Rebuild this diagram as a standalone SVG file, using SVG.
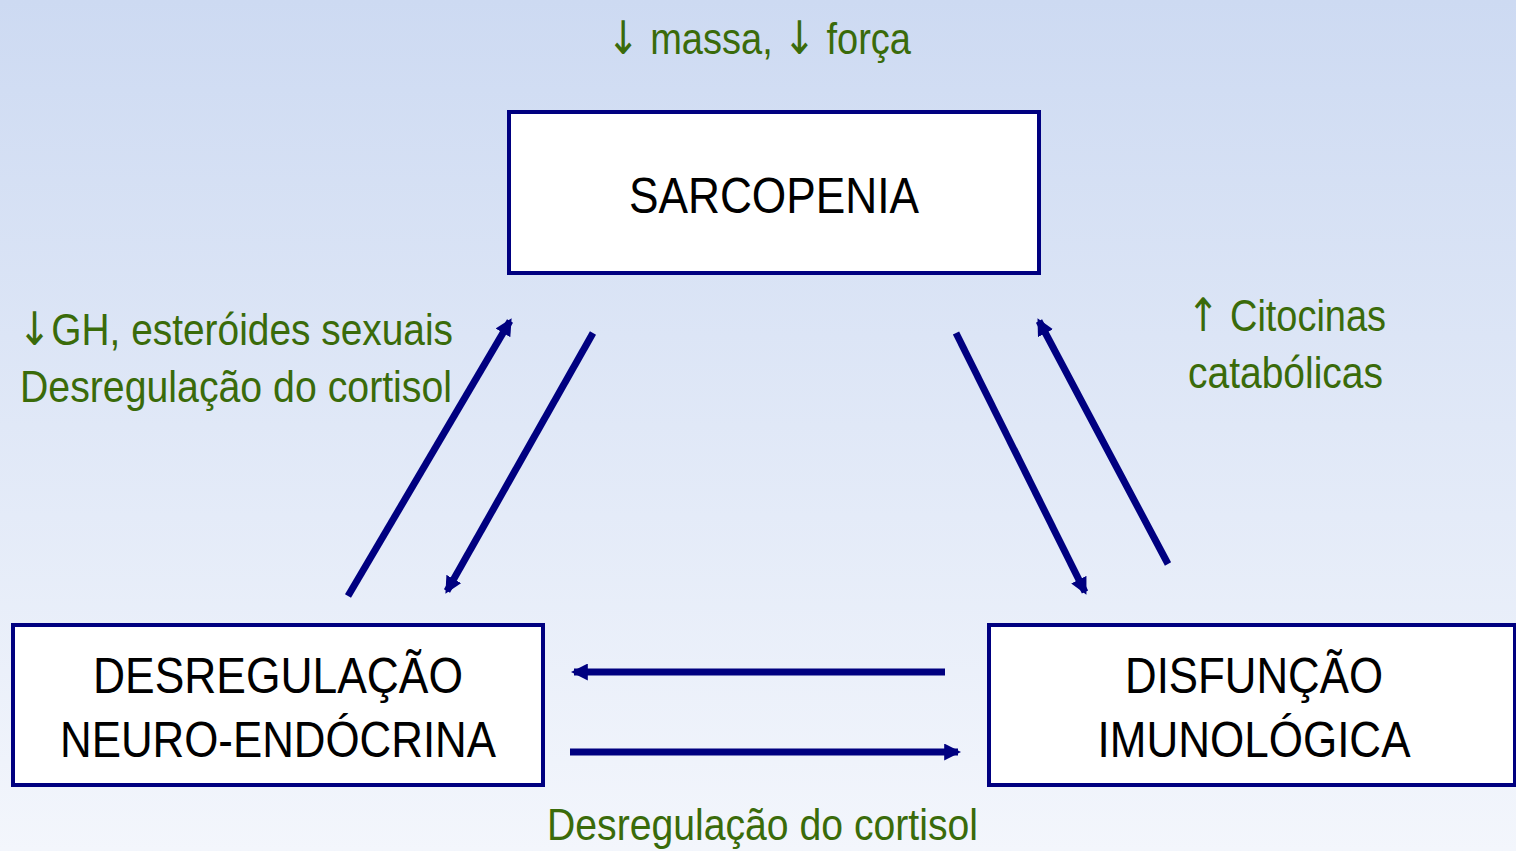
<svg xmlns="http://www.w3.org/2000/svg" width="1516" height="851" viewBox="0 0 1516 851">
<defs>
<linearGradient id="bg" x1="0" y1="0" x2="0" y2="1">
<stop offset="0" stop-color="#cddaf2"/>
<stop offset="1" stop-color="#f3f6fc"/>
</linearGradient>
<marker id="ah" viewBox="0 0 16 16" refX="13" refY="8" markerWidth="17" markerHeight="17" markerUnits="userSpaceOnUse" orient="auto">
<path d="M0,0 L16,8 L0,16 Z" fill="#000080"/>
</marker>
<style>
.box{fill:#ffffff;stroke:#000080;stroke-width:4}
.lbl{font-family:"Liberation Sans",Arial,sans-serif;font-size:50px;fill:#000000;text-anchor:middle}
.g{font-family:"Liberation Sans",Arial,sans-serif;font-size:45px;fill:#3a6b0a}
.ar{font-family:"DejaVu Sans",sans-serif;font-size:46px}
.c{stroke:#000080;stroke-width:7;fill:none;marker-end:url(#ah)}
</style>
</defs>
<rect x="0" y="0" width="1516" height="851" fill="url(#bg)"/>
<g id="sarcopenia">
<rect class="box" x="509" y="112" width="530" height="161"/>
<text class="lbl" x="774" y="213" textLength="290" lengthAdjust="spacingAndGlyphs">SARCOPENIA</text>
</g>
<g id="neuro">
<rect class="box" x="13" y="625" width="530" height="160"/>
<text class="lbl" x="278" y="693" textLength="370" lengthAdjust="spacingAndGlyphs">DESREGULAÇÃO</text>
<text class="lbl" x="278" y="757" textLength="436" lengthAdjust="spacingAndGlyphs">NEURO-ENDÓCRINA</text>
</g>
<g id="imuno">
<rect class="box" x="989" y="625" width="526" height="160"/>
<text class="lbl" x="1254" y="693" textLength="258" lengthAdjust="spacingAndGlyphs">DISFUNÇÃO</text>
<text class="lbl" x="1254" y="757" textLength="313" lengthAdjust="spacingAndGlyphs">IMUNOLÓGICA</text>
</g>
<g id="connectors">
<line class="c" x1="348" y1="596" x2="510" y2="321"/>
<line class="c" x1="593" y1="333" x2="447" y2="591"/>
<line class="c" x1="956" y1="333" x2="1085" y2="592"/>
<line class="c" x1="1168" y1="564" x2="1039" y2="321"/>
<line class="c" x1="945" y1="672" x2="574" y2="672"/>
<line class="c" x1="570" y1="752" x2="958" y2="752"/>
</g>
<g id="labels">
<text class="g" x="607" y="54" textLength="304" lengthAdjust="spacingAndGlyphs"><tspan class="ar">↓</tspan> massa, <tspan class="ar">↓</tspan> força</text>
<text class="g" x="18" y="345" textLength="435" lengthAdjust="spacingAndGlyphs"><tspan class="ar">↓</tspan>GH, esteróides sexuais</text>
<text class="g" x="20" y="402" textLength="432" lengthAdjust="spacingAndGlyphs">Desregulação do cortisol</text>
<text class="g" x="1187" y="331" textLength="199" lengthAdjust="spacingAndGlyphs"><tspan class="ar">↑</tspan> Citocinas</text>
<text class="g" x="1188" y="388" textLength="195" lengthAdjust="spacingAndGlyphs">catabólicas</text>
<text class="g" x="547" y="840" textLength="431" lengthAdjust="spacingAndGlyphs">Desregulação do cortisol</text>
</g>
</svg>
